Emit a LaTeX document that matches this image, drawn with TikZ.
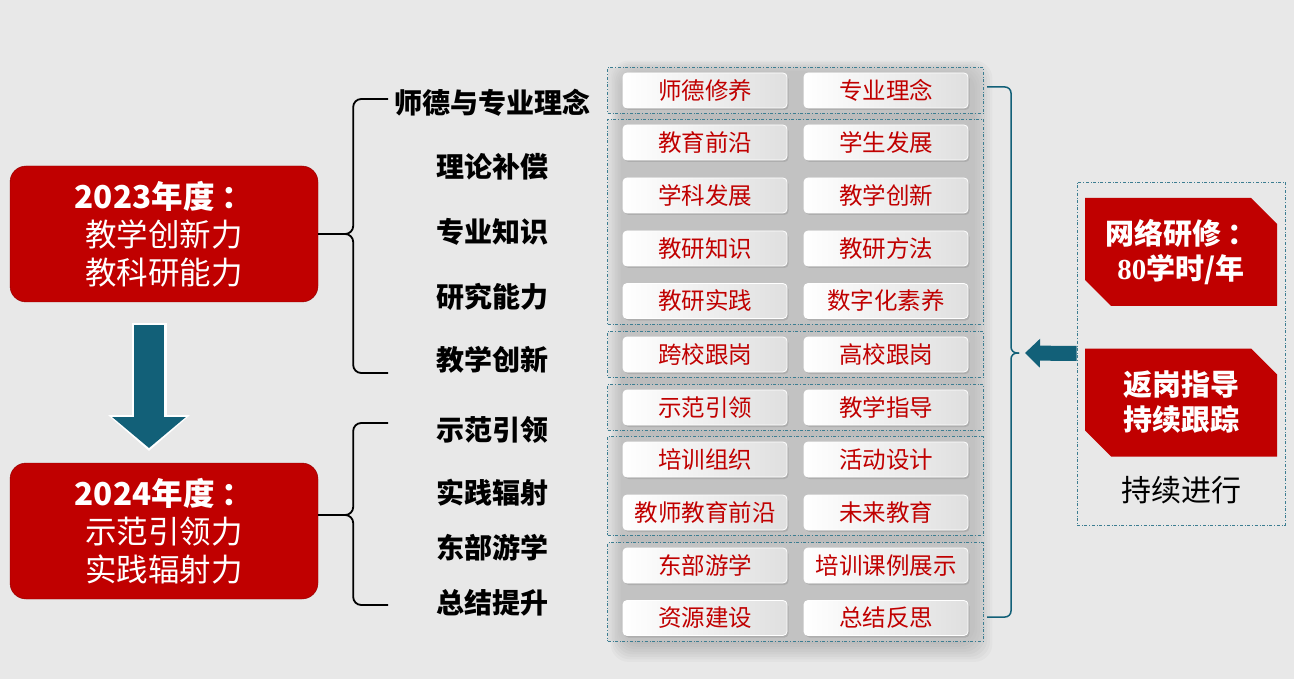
\documentclass[tikz,border=0pt]{standalone}
\usepackage{fontspec}
\setmainfont{Noto Sans CJK SC}
\newfontfamily\numfont{Liberation Serif}
\usetikzlibrary{positioning,fit,shadows,shapes.misc,arrows.meta,backgrounds}
\definecolor{deepred}{RGB}{192,0,0}
\definecolor{arrowteal}{RGB}{18,96,120}
\definecolor{dashteal}{RGB}{60,125,145}
\definecolor{bggray}{RGB}{232,232,232}

\begin{document}
\begin{tikzpicture}
  [x=1pt,y=-1pt,
   yearbox/.style={rectangle,rounded corners=16pt,fill=deepred,draw=deepred!75!black,text=white,
     minimum width=308pt,minimum height=136pt,align=center,font=\fontsize{31.5}{38}\selectfont},
   topic/.style={font=\fontsize{28}{30}\selectfont\bfseries},
   cell/.style={rectangle,rounded corners=4pt,draw=white,line width=.8pt,left color=white,
     right color=gray!25,minimum width=164pt,minimum height=35pt,inner sep=0pt,text=deepred,
     font=\fontsize{23.5}{24}\selectfont,drop shadow={opacity=.3,shadow xshift=1.5pt,shadow yshift=-2pt}},
   grp/.style={draw=dashteal,dash dot,line width=.8pt,fill=gray!40,fill opacity=.4,inner xsep=15pt,inner ysep=5pt},
   tag/.style={chamfered rectangle,chamfered rectangle corners={north east,south west},
     chamfered rectangle sep=13pt,fill=deepred,text=white,minimum width=192pt,minimum height=108pt,
     inner sep=0pt,align=center,font=\fontsize{29}{35}\selectfont\bfseries},
   brace/.style={draw=black,line width=1.8pt,rounded corners=8pt},
   rbrace/.style={draw=arrowteal,line width=1.5pt,rounded corners=6pt}]

  \begin{scope}[on background layer]
    \fill[bggray] (0,0) rectangle (1294,679);
  \end{scope}
  \useasboundingbox (0,0) rectangle (1294,679);

  % year boxes
  \node[yearbox] (y23) at (164,234) {{\bfseries 2023年度 ：}\\教学创新力\\教科研能力};
  \node[yearbox] (y24) at (164,531) {{\bfseries 2024年度 ：}\\示范引领力\\实践辐射力};

  \coordinate (d0) at (149,323);
  \coordinate (d1) at (149,451);
  \draw[white,line width=35pt,-{Triangle[width=80pt,length=36pt]}] (d0) -- (d1);
  \draw[arrowteal,line width=30pt,-{Triangle[width=72pt,length=31pt]}] ([yshift=-2pt]d0) -- ([yshift=3pt]d1);

  % topics
  \foreach \y/\t [count=\i] in {103/师德与专业理念,167/理论补偿,232/专业知识,297/研究能力,
      360/教学创新,430/示范引领,493/实践辐射,548/东部游学,603/总结提升}
    \node[topic] (t\i) at (492,\y) {\t};

  \coordinate (e1) at (388,99);
  \coordinate (e2) at (388,373);
  \coordinate (e3) at (388,423);
  \coordinate (e4) at (388,605);
  \coordinate (k2) at ([yshift=16pt]y24.east);
  \draw[brace] (e1) -| ([xshift=35pt]y23.east) -- (y23.east);
  \draw[brace] (e2) -| ([xshift=35pt]y23.east) -- (y23.east);
  \draw[brace] (e3) -| ([xshift=35pt]k2) -- (k2);
  \draw[brace] (e4) -| ([xshift=35pt]k2) -- (k2);

  % cells
  \foreach \y/\a/\b [count=\i] in {90.5/师德修养/专业理念,142.5/教育前沿/学生发展,195.5/学科发展/教学创新,
      248.5/教研知识/教研方法,301/教研实践/数字化素养,354.5/跨校跟岗/高校跟岗,407.5/示范引领/教学指导,
      459.5/培训组织/活动设计,512.5/教师教育前沿/未来教育,565.5/东部游学/培训课例展示,618/资源建设/总结反思}
  {
    \node[cell] (a\i) at (705,\y) {\a};
    \node[cell] (b\i) at (886,\y) {\b};
  }

  \begin{scope}[on background layer]
    \foreach \k in {1,...,8}
      \fill[black,opacity=.022,rounded corners=18pt]
        ([xshift=-1.5*\k,yshift=1.5*\k]a1.north west) rectangle ([xshift=2.5*\k+4,yshift=-2.5*\k-6]b11.south east);
    \node[grp,fit=(a1)(b1)] (g1) {};
    \node[grp,fit=(a2)(b5)] (g2) {};
    \node[grp,fit=(a6)(b6)] (g3) {};
    \node[grp,fit=(a7)(b7)] (g4) {};
    \node[grp,fit=(a8)(b9)] (g5) {};
    \node[grp,fit=(a10)(b11)] (g6) {};
  \end{scope}

  % right side
  \node[draw=dashteal,dash dot,line width=.8pt,minimum width=208pt,minimum height=343pt] (side) at (1181,353.5) {};
  \node[tag] (w1) at (1181,252) {网络研修 ：\\{\numfont 80}学时/年};
  \node[tag] (w2) at (1181,402.5) {返岗指导\\持续跟踪};
  \node[font=\fontsize{30}{32}\selectfont] (w3) at (1181,490) {持续进行};

  \coordinate (rt) at (1025,353);
  \coordinate (r1) at (987,87);
  \coordinate (r2) at (987,617);
  \draw[arrowteal,line width=15pt,-{Triangle[width=28pt,length=15pt]}] (side.west) -- (rt);
  \draw[rbrace] (r1) -| ([xshift=-14pt]rt) -- ([xshift=-6pt]rt);
  \draw[rbrace] (r2) -| ([xshift=-14pt]rt) -- ([xshift=-6pt]rt);

\end{tikzpicture}
\end{document}
